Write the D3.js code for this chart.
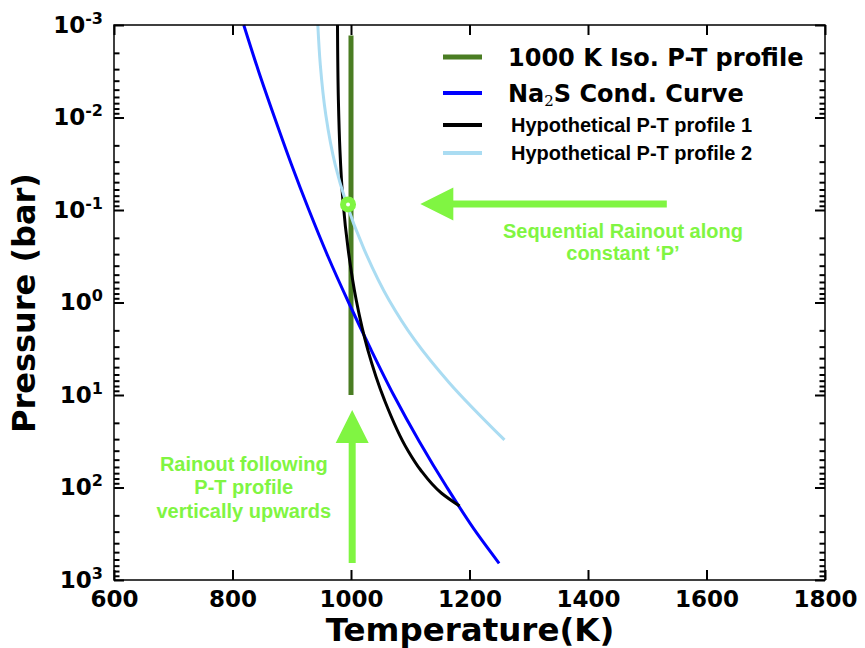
<!DOCTYPE html>
<html><head><meta charset="utf-8">
<script src="https://cdn.jsdelivr.net/npm/d3@7"></script>
<style>body{margin:0;background:#fff}</style>
</head><body>
<svg id="c" width="865" height="648" xmlns="http://www.w3.org/2000/svg"></svg>
<script>
// ---- data ----
const xTicks = [600, 800, 1000, 1200, 1400, 1600, 1800];
const yTickExp = [-3, -2, -1, 0, 1, 2, 3];

const isoT = [1000, 1000];
const isoP = [0.0013, 10];

const na2sT = [819, 844, 871, 899, 929, 961, 996, 1033, 1072, 1115, 1162, 1213, 1250];
const na2sP = [0.001, 0.00316, 0.01, 0.0316, 0.1, 0.316, 1, 3.16, 10, 31.6, 100, 316, 660];

const pt1T = [977.2, 978.7, 981.3, 986.3, 995.3, 1008.8, 1028.5, 1056.4, 1095.5, 1117.5, 1152.4, 1183.2];
const pt1P = [0.001, 0.00647, 0.0224, 0.078, 0.27, 0.94, 3.27, 11.3, 39.3, 64.7, 114.6, 158.5];

const pt2T = [944, 948.2, 957.5, 973.5, 990.4, 1022.5, 1064.1, 1107.4, 1166.1, 1259];
const pt2P = [0.001, 0.0027, 0.0094, 0.0327, 0.078, 0.27, 0.94, 2.54, 7.41, 30.6];

const markerT = [995];
const markerP = [0.087];

const arrowHT = [1533, 1117];
const arrowHP = [0.086, 0.086];
const arrowVT = [1002, 1002];
const arrowVP = [655, 14.5];

const legendLabels = ["1000 K Iso. P-T profile", "Na2S Cond. Curve", "Hypothetical P-T profile 1", "Hypothetical P-T profile 2"];
const seriesColors = ["#4a7d23", "#0000ff", "#000000", "#aadcf2"];

const noteSeq = ["Sequential Rainout along", "constant \u2018P\u2019"];
const noteSeqPos = [1459, 0.2];
const noteRain = ["Rainout following", "P-T profile", "vertically upwards"];
const noteRainPos = [819, 66.4];

// ---- setup ----
const svg = d3.select("#c");
const W = 865, H = 648;
svg.append("rect").attr("width", W).attr("height", H).attr("fill", "#fff");

const x = d3.scaleLinear().domain([600, 1800]).range([114, 825]);
const y = d3.scaleLog().domain([1e-3, 1e3]).range([25, 580]);

const green = "#80f542";
const sansB = "'DejaVu Sans', sans-serif";
const arialB = "'Liberation Sans', Arial, sans-serif";

const line = d3.line().x(d => x(d[0])).y(d => y(d[1])).curve(d3.curveMonotoneY);
const zip = (a, b) => a.map((v, i) => [v, b[i]]);

const plot = svg.append("g");
plot.append("path").datum(zip(isoT, isoP)).attr("d", d3.line().x(d => x(d[0])).y(d => y(d[1])))
  .attr("stroke", seriesColors[0]).attr("stroke-width", 5).attr("fill", "none");
plot.append("path").datum(zip(na2sT, na2sP)).attr("d", line)
  .attr("stroke", seriesColors[1]).attr("stroke-width", 3).attr("fill", "none");
plot.append("path").datum(zip(pt1T, pt1P)).attr("d", line)
  .attr("stroke", seriesColors[2]).attr("stroke-width", 3).attr("fill", "none");
plot.append("path").datum(zip(pt2T, pt2P)).attr("d", line)
  .attr("stroke", seriesColors[3]).attr("stroke-width", 3).attr("fill", "none");

// marker
plot.selectAll("circle.m").data(zip(markerT, markerP)).enter().append("circle")
  .attr("cx", d => x(d[0])).attr("cy", d => y(d[1])).attr("r", 5)
  .attr("fill", "#fff").attr("stroke", green).attr("stroke-width", 6);

// arrows
function arrow(T, P) {
  const x0 = x(T[0]), y0 = y(P[0]), x1 = x(T[1]), y1 = y(P[1]);
  const len = Math.hypot(x1 - x0, y1 - y0);
  const dx = (x1 - x0) / len, dy = (y1 - y0) / len;
  const nx = -dy, ny = dx;
  const hl = 33, hw = 16.5, sw = 3.5;
  const bx = x1 - dx * hl, by = y1 - dy * hl;
  const pts = [
    [x0 + nx * sw, y0 + ny * sw], [bx + nx * sw, by + ny * sw], [bx + nx * hw, by + ny * hw],
    [x1, y1],
    [bx - nx * hw, by - ny * hw], [bx - nx * sw, by - ny * sw], [x0 - nx * sw, y0 - ny * sw]
  ];
  plot.append("polygon").attr("points", pts.map(p => p.join(",")).join(" ")).attr("fill", green);
}
arrow(arrowHT, arrowHP);
arrow(arrowVT, arrowVP);

// annotations
const ns = plot.append("text").attr("font-family", arialB).attr("font-weight", "bold")
  .attr("font-size", 20).attr("fill", green).attr("text-anchor", "middle");
noteSeq.forEach((t, i) => ns.append("tspan").attr("x", x(noteSeqPos[0]))
  .attr("y", y(noteSeqPos[1]) + i * 22).text(t));
const nr = plot.append("text").attr("font-family", arialB).attr("font-weight", "bold")
  .attr("font-size", 20).attr("fill", green).attr("text-anchor", "middle");
noteRain.forEach((t, i) => nr.append("tspan").attr("x", x(noteRainPos[0]))
  .attr("y", y(noteRainPos[1]) + i * 23.3).text(t));

// ---- axes ----
const tickW = 2;
function styleAxis(g) {
  g.select(".domain").remove();
  g.selectAll(".tick line").attr("stroke", "#000").attr("stroke-width", tickW);
}
const xb = svg.append("g").attr("transform", "translate(0,580)")
  .call(d3.axisBottom(x).tickValues(xTicks).tickSizeInner(-10).tickSizeOuter(0).tickPadding(11).tickFormat(d3.format("d")));
styleAxis(xb);
xb.selectAll("text").attr("font-family", sansB).attr("font-weight", "bold").attr("font-size", 23).attr("fill", "#000");

const xt = svg.append("g").attr("transform", "translate(0,25)")
  .call(d3.axisTop(x).tickValues(xTicks).tickSizeInner(-10).tickSizeOuter(0).tickFormat(""));
styleAxis(xt);

const majorP = yTickExp.map(e => Math.pow(10, e));
const minorP = [];
yTickExp.slice(0, -1).forEach(e => { for (let k = 2; k <= 9; k++) minorP.push(k * Math.pow(10, e)); });

const yl = svg.append("g").attr("transform", "translate(114,0)")
  .call(d3.axisLeft(y).tickValues(majorP).tickSizeInner(-10).tickSizeOuter(0).tickPadding(11).tickFormat(""));
styleAxis(yl);
yl.selectAll(".tick text").each(function (d) {
  const t = d3.select(this);
  const e = Math.round(Math.log10(d));
  t.attr("font-family", sansB).attr("font-weight", "bold").attr("font-size", 23).attr("fill", "#000");
  t.append("tspan").text("10");
  t.append("tspan").attr("font-size", 16).attr("dy", -9).text(e < 0 ? "-" + (-e) : e);
});
const ylm = svg.append("g").attr("transform", "translate(114,0)")
  .call(d3.axisLeft(y).tickValues(minorP).tickSizeInner(-5.5).tickSizeOuter(0).tickFormat(""));
styleAxis(ylm);
const yr = svg.append("g").attr("transform", "translate(825,0)")
  .call(d3.axisRight(y).tickValues(majorP).tickSizeInner(-10).tickSizeOuter(0).tickFormat(""));
styleAxis(yr);
const yrm = svg.append("g").attr("transform", "translate(825,0)")
  .call(d3.axisRight(y).tickValues(minorP).tickSizeInner(-5.5).tickSizeOuter(0).tickFormat(""));
styleAxis(yrm);

svg.append("rect").attr("x", 114).attr("y", 25).attr("width", 711).attr("height", 555)
  .attr("fill", "none").attr("stroke", "#000").attr("stroke-width", 1.5);

// axis titles
svg.append("text").attr("x", 470).attr("y", 641).attr("text-anchor", "middle")
  .attr("font-family", sansB).attr("font-weight", "bold").attr("font-size", 32.5).text("Temperature(K)");
svg.append("text").attr("transform", "translate(35,303) rotate(-90)").attr("text-anchor", "middle")
  .attr("font-family", sansB).attr("font-weight", "bold").attr("font-size", 32).text("Pressure (bar)");

// ---- legend ----
const legY = [57, 93, 125, 153];
const legW = [5, 4, 4, 4];
const lg = svg.append("g");
legendLabels.forEach((lab, i) => {
  lg.append("line").attr("x1", 443).attr("x2", 482).attr("y1", legY[i]).attr("y2", legY[i])
    .attr("stroke", seriesColors[i]).attr("stroke-width", legW[i]);
  const big = i < 2;
  const t = lg.append("text").attr("x", big ? 508 : 511).attr("y", legY[i] + (big ? 8.8 : 7))
    .attr("font-family", big ? sansB : arialB).attr("font-weight", "bold")
    .attr("font-size", big ? 24 : 20).attr("fill", "#000");
  if (lab.startsWith("Na2S")) {
    t.append("tspan").text("Na");
    t.append("tspan").attr("font-family", "'DejaVu Serif', serif").attr("font-weight", "normal")
      .attr("font-size", 15).attr("dy", 4).text("2");
    t.append("tspan").attr("dy", -4).text("S" + lab.slice(4));
  } else {
    t.text(lab);
  }
});
</script>
</body></html>
